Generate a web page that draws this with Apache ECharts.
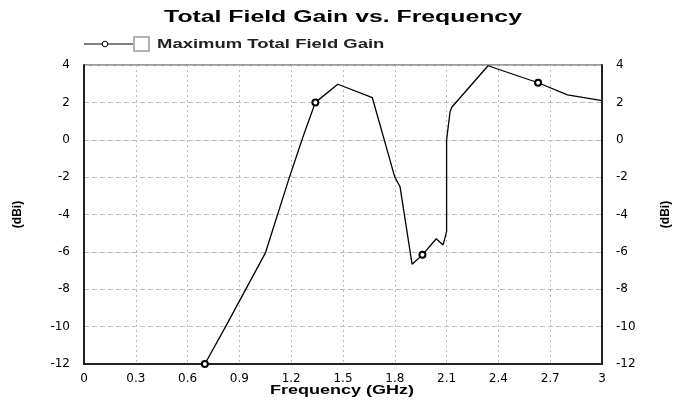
<!DOCTYPE html>
<html>
<head>
<meta charset="utf-8">
<script src="https://cdn.jsdelivr.net/npm/echarts@6/dist/echarts.min.js"></script>
<style>
  html, body { margin: 0; padding: 0; background: #fff; }
  #chart { width: 676px; height: 403px; }
</style>
</head>
<body>
<div id="chart"></div>
<script>
// frequency (GHz) and gain (dBi)
var freq = [0.70, 0.82, 1.05, 1.19, 1.27, 1.34, 1.47, 1.67, 1.80, 1.83, 1.90, 1.96, 2.04, 2.08, 2.10, 2.10, 2.12, 2.13, 2.34, 2.63, 2.80, 3.00];
var gain = [-12, -10, -6.07, -2.0, 0.2, 2.0, 2.97, 2.25, -2.0, -2.5, -6.66, -6.16, -5.3, -5.63, -4.9, 0.0, 1.5, 1.74, 3.96, 3.05, 2.4, 2.09];
// points that carry a marker
var markerIdx = [0, 5, 11, 19];
var seriesName = 'Maximum Total Field Gain';

var font = 'Liberation Sans, Arial, sans-serif';
var tickFont = 'DejaVu Sans, sans-serif';

var seriesData = freq.map(function (f, i) {
  var on = markerIdx.indexOf(i) >= 0;
  return { value: [f, gain[i]], symbol: on ? 'emptyCircle' : 'none', symbolSize: 6 };
});

var yAxisBase = {
  type: 'value',
  min: -12,
  max: 4,
  interval: 2,
  axisLine: { show: true, lineStyle: { color: '#222', width: 2 } },
  axisTick: { show: false },
  axisLabel: { color: '#000', fontFamily: tickFont, fontSize: 12, margin: 14 },
  name: '(dBi)',
  nameLocation: 'middle',
  nameRotate: 90,
  nameTextStyle: { color: '#000', fontFamily: font, fontSize: 12, fontWeight: 'bold' }
};

var chart = echarts.init(document.getElementById('chart'));
chart.setOption({
  animation: false,
  backgroundColor: '#fff',
  graphic: [
    // title, stretched sideways like the original
    {
      type: 'text', x: 343, y: 18, scaleX: 1.55,
      style: {
        text: 'Total Field Gain vs. Frequency', fill: '#000',
        font: 'bold 16px ' + font, align: 'center', verticalAlign: 'middle'
      }
    },
    // legend
    { type: 'line', shape: { x1: 84, y1: 44, x2: 133, y2: 44 }, style: { stroke: '#000', lineWidth: 1 } },
    { type: 'circle', shape: { cx: 105, cy: 44, r: 2.8 }, style: { fill: '#fff', stroke: '#000', lineWidth: 1 } },
    { type: 'rect', shape: { x: 134, y: 37, width: 15, height: 14 }, style: { fill: '#fff', stroke: '#999', lineWidth: 1.5 } },
    {
      type: 'text', x: 157, y: 44, scaleX: 1.42,
      style: {
        text: seriesName, fill: '#222',
        font: 'bold 13px ' + font, align: 'left', verticalAlign: 'middle'
      }
    },
    // x axis title
    {
      type: 'text', x: 342, y: 391, scaleX: 1.5,
      style: {
        text: 'Frequency (GHz)', fill: '#000',
        font: 'bold 12px ' + font, align: 'center', verticalAlign: 'middle'
      }
    }
  ],
  grid: {
    left: 84, right: 74, top: 65, bottom: 39,
    outerBoundsMode: 'none',
    show: true, borderColor: '#333', borderWidth: 1
  },
  xAxis: {
    type: 'value',
    min: 0,
    max: 3,
    interval: 0.3,
    axisLine: { show: true, onZero: false, lineStyle: { color: '#222', width: 2 } },
    axisTick: { show: false },
    axisLabel: {
      color: '#000', fontFamily: tickFont, fontSize: 12, margin: 9,
      formatter: function (v) { return String(Math.round(v * 10) / 10); }
    },
    splitLine: { show: true, lineStyle: { color: '#bbb', type: [2, 3], width: 1 } }
  },
  yAxis: [
    Object.assign({}, yAxisBase, {
      position: 'left',
      nameGap: 60,
      splitLine: { show: true, lineStyle: { color: '#bbb', type: [5, 3], width: 1 } }
    }),
    Object.assign({}, yAxisBase, {
      position: 'right',
      nameGap: 58,
      splitLine: { show: false }
    })
  ],
  series: [{
    name: seriesName,
    type: 'line',
    data: seriesData,
    showAllSymbol: true,
    lineStyle: { color: '#000', width: 1.3 },
    itemStyle: { color: '#000', borderColor: '#000', borderWidth: 1 },
    clip: false
  }]
});
</script>
</body>
</html>
